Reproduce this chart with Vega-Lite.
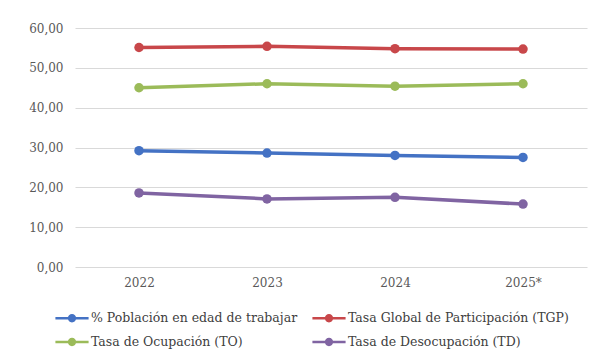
{
  "$schema": "https://vega.github.io/schema/vega-lite/v6.json",
  "width": 512,
  "height": 239,
  "autosize": "none",
  "padding": {"left": 75, "top": 28, "right": 15, "bottom": 94},
  "background": "white",
  "data": {"values": [
    {"anio": "2022", "serie": "% Población en edad de trabajar", "valor": 29.2},
    {"anio": "2023", "serie": "% Población en edad de trabajar", "valor": 28.6},
    {"anio": "2024", "serie": "% Población en edad de trabajar", "valor": 28.0},
    {"anio": "2025*", "serie": "% Población en edad de trabajar", "valor": 27.5},
    {"anio": "2022", "serie": "Tasa Global de Participación (TGP)", "valor": 55.1},
    {"anio": "2023", "serie": "Tasa Global de Participación (TGP)", "valor": 55.4},
    {"anio": "2024", "serie": "Tasa Global de Participación (TGP)", "valor": 54.8},
    {"anio": "2025*", "serie": "Tasa Global de Participación (TGP)", "valor": 54.7},
    {"anio": "2022", "serie": "Tasa de Ocupación (TO)", "valor": 45.0},
    {"anio": "2023", "serie": "Tasa de Ocupación (TO)", "valor": 46.0},
    {"anio": "2024", "serie": "Tasa de Ocupación (TO)", "valor": 45.4},
    {"anio": "2025*", "serie": "Tasa de Ocupación (TO)", "valor": 46.0},
    {"anio": "2022", "serie": "Tasa de Desocupación (TD)", "valor": 18.6},
    {"anio": "2023", "serie": "Tasa de Desocupación (TD)", "valor": 17.1},
    {"anio": "2024", "serie": "Tasa de Desocupación (TD)", "valor": 17.5},
    {"anio": "2025*", "serie": "Tasa de Desocupación (TD)", "valor": 15.8}
  ]},
  "encoding": {
    "x": {"field": "anio", "type": "ordinal", "title": null, "sort": null,
      "scale": {"paddingInner": 0, "paddingOuter": 0},
      "axis": {"labelAngle": 0, "domain": false, "ticks": false, "labelPadding": 10, "grid": false}},
    "y": {"field": "valor", "type": "quantitative", "title": null,
      "scale": {"domain": [0, 60], "nice": false},
      "axis": {"values": [0, 10, 20, 30, 40, 50, 60], "domain": false, "ticks": false, "labelPadding": 12,
        "labelExpr": "replace(format(datum.value, '.2f'), '.', ',')", "gridColor": "#d9d9d9"}},
    "color": {"field": "serie", "type": "nominal", "title": null,
      "scale": {"domain": ["% Población en edad de trabajar", "Tasa Global de Participación (TGP)", "Tasa de Ocupación (TO)", "Tasa de Desocupación (TD)"],
        "range": ["#4472C4", "#C8474A", "#9BBB59", "#8064A2"]},
      "legend": {"orient": "none", "legendX": -20, "legendY": 273, "columns": 2, "direction": "horizontal", "columnPadding": 14, "rowPadding": -6,
        "symbolType": "M-1,-0.08 L1,-0.08 L1,0.08 L-1,0.08 Z M0.25,0 A0.25,0.25 0 1,1 -0.25,0 A0.25,0.25 0 1,1 0.25,0 Z",
        "symbolSize": 1100, "symbolStrokeWidth": 0, "labelOffset": 2, "labelLimit": 400}}
  },
  "layer": [
    {"mark": {"type": "line", "strokeWidth": 3.5}},
    {"mark": {"type": "point", "filled": true, "size": 90, "opacity": 1}}
  ],
  "config": {
    "font": "DejaVu Serif",
    "view": {"stroke": null},
    "axis": {"labelFont": "DejaVu Serif", "labelFontSize": 12, "labelColor": "#595959"},
    "legend": {"labelFont": "DejaVu Serif", "labelFontSize": 12.5, "labelColor": "#404040"}
  }
}
